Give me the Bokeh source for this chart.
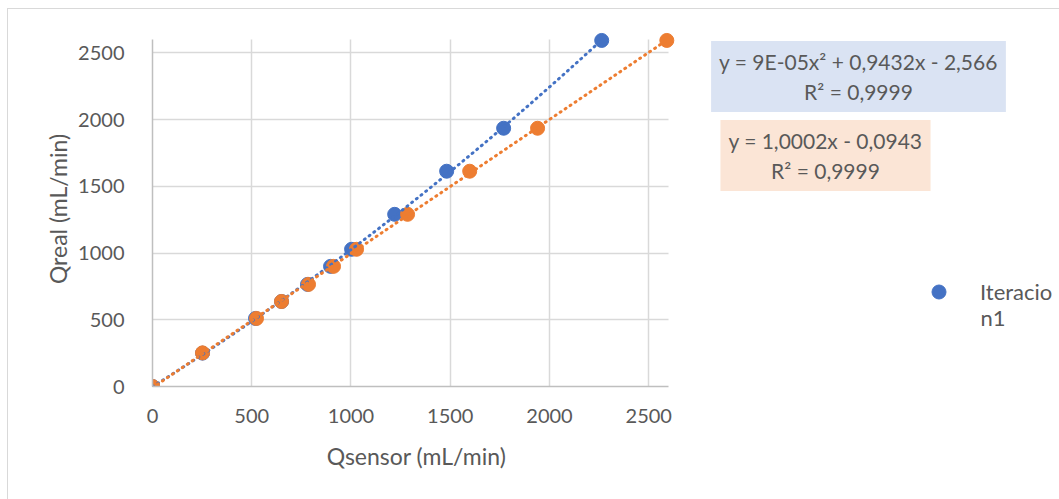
import numpy as np
from bokeh.plotting import figure
from bokeh.layouts import row
from bokeh.models import Range1d, FixedTicker, Label, Legend, LegendItem
from bokeh.embed import file_html
from bokeh.resources import INLINE

# ---- data ----
blue_x = [0, 252, 519, 650, 781, 897, 1003, 1220, 1482, 1769, 2263]
blue_y = [0, 250, 510, 637, 765, 900, 1028, 1290, 1613, 1935, 2593]
orange_x = [0, 252, 524, 650, 786, 912, 1028, 1285, 1598, 1940, 2591]
orange_y = [0, 252, 510, 637, 765, 900, 1028, 1290, 1613, 1935, 2593]
ticks = [0, 500, 1000, 1500, 2000, 2500]
axis_max = 2600
legend_lines = ["Iteracio", "n1"]   # series name "Iteracion1", wrapped as in the reference
eq_blue = "y = 9E-05x\u00b2 + 0,9432x - 2,566\nR\u00b2 = 0,9999"
eq_orange = "y = 1,0002x - 0,0943\nR\u00b2 = 0,9999"
x_title = "Qsensor (mL/min)"
y_title = "Qreal (mL/min)"

BLUE = "#4472c4"
ORANGE = "#ed7d31"
TXT = "#595959"
FONT = "Lato"
H = 490
TOP = 22
BOTTOM = 113

p = figure(width=682, height=H, output_backend="svg", toolbar_location=None,
           x_range=Range1d(0, 2660), y_range=Range1d(0, 2660),
           min_border_left=144, min_border_right=10, min_border_top=TOP,
           min_border_bottom=BOTTOM)
p.outline_line_color = None
p.background_fill_color = "white"
p.border_fill_color = "white"

for ax in (p.xaxis[0], p.yaxis[0]):
    ax.ticker = FixedTicker(ticks=ticks)
    ax.bounds = (0, axis_max)
    ax.major_tick_line_color = None
    ax.minor_tick_line_color = None
    ax.axis_line_color = "#bfbfbf"
    ax.axis_line_width = 1.5
    ax.major_label_text_font = FONT
    ax.major_label_text_font_size = "20px"
    ax.major_label_text_color = TXT
    ax.axis_label_text_font = FONT
    ax.axis_label_text_font_size = "23px"
    ax.axis_label_text_font_style = "normal"
    ax.axis_label_text_color = TXT

p.xaxis[0].axis_label = x_title
p.yaxis[0].axis_label = y_title
p.xaxis[0].major_label_standoff = 16
p.yaxis[0].major_label_standoff = 22
p.xaxis[0].axis_label_standoff = 16
p.yaxis[0].axis_label_standoff = 3

for g in (p.xgrid[0], p.ygrid[0]):
    g.ticker = FixedTicker(ticks=ticks)
    g.grid_line_color = "#d9d9d9"
    g.grid_line_width = 1.5
    if "cross_bounds" in g.properties():
        g.cross_bounds = (0, axis_max)

# points
rb = p.scatter(blue_x, blue_y, size=14, color=BLUE, line_color=BLUE)
ro = p.scatter(orange_x, orange_y, size=14, color=ORANGE, line_color=ORANGE)

# trendlines (fitted from the data)
cb = np.polyfit(blue_x, blue_y, 2)
xb = np.linspace(0, max(blue_x), 200)
p.line(xb, np.polyval(cb, xb), color=BLUE, line_width=3, line_dash="1 5", line_cap="round")
co = np.polyfit(orange_x, orange_y, 1)
xo = np.linspace(0, max(orange_x), 200)
p.line(xo, np.polyval(co, xo), color=ORANGE, line_width=3, line_dash="1 5", line_cap="round")

# right-hand panel: trendline equations and legend
q = figure(width=369, height=H, output_backend="svg", toolbar_location=None,
           x_range=Range1d(0, 1), y_range=Range1d(0, 1),
           min_border_left=0, min_border_right=0, min_border_top=TOP,
           min_border_bottom=BOTTOM, x_axis_type=None, y_axis_type=None)
q.outline_line_color = None
q.grid.visible = False
q.background_fill_color = "white"
q.border_fill_color = "white"

lab_b = Label(x=168, y=310, x_units="screen", y_units="screen", text=eq_blue,
              text_align="center", text_baseline="middle", text_font=FONT,
              text_font_size="21px", text_color=TXT, background_fill_color="#dae3f3",
              padding=8)
lab_o = Label(x=135, y=231, x_units="screen", y_units="screen", text=eq_orange,
              text_align="center", text_baseline="middle", text_font=FONT,
              text_font_size="21px", text_color=TXT, background_fill_color="#fbe5d6",
              padding=8)
q.add_layout(lab_b)
q.add_layout(lab_o)

# legend proxy marker (kept outside the visible range of the side panel)
proxy = q.scatter([-1], [-1], size=14, color=BLUE, line_color=BLUE)
legend = Legend(items=[LegendItem(label=legend_lines[0], renderers=[proxy])],
                location=(231, 77), margin=0, padding=0, border_line_alpha=0,
                background_fill_alpha=0, label_standoff=24, glyph_width=35,
                glyph_height=35, label_text_font=FONT, label_text_font_size="22px",
                label_text_color=TXT)
q.add_layout(legend, "center")
q.add_layout(Label(x=290, y=69, x_units="screen", y_units="screen", text=legend_lines[1],
                   text_align="left", text_baseline="middle", text_font=FONT,
                   text_font_size="22px", text_color=TXT))

layout = row(p, q)
layout.styles = {"margin-left": "7px", "margin-top": "8px",
                 "border-left": "1px solid #d9d9d9", "border-top": "1px solid #d9d9d9"}

open("out.html", "w").write(file_html(layout, INLINE))
